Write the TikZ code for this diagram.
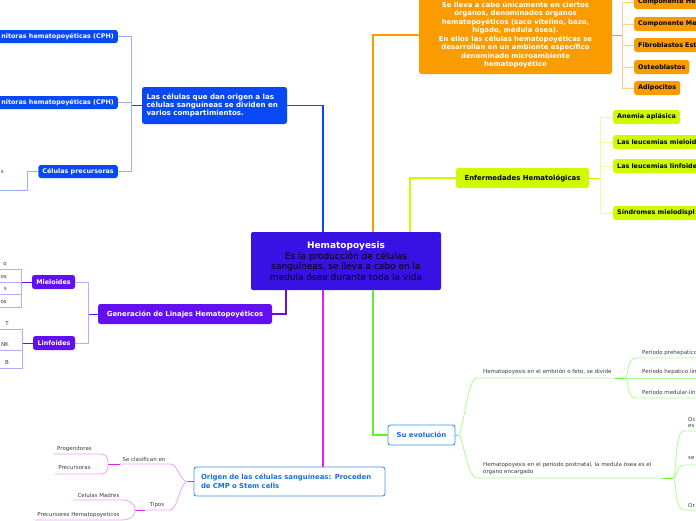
\documentclass[tikz,border=0pt]{standalone}
\usepackage{fontspec}
\setmainfont{DejaVu Sans}
\definecolor{hubcol}{RGB}{56,18,228}
\definecolor{cblue}{RGB}{8,72,245}
\definecolor{cbluel}{RGB}{150,178,250}
\definecolor{corange}{RGB}{250,155,0}
\definecolor{corangel}{RGB}{252,205,140}
\definecolor{clime}{RGB}{208,250,0}
\definecolor{climel}{RGB}{236,250,160}
\definecolor{cviolet}{RGB}{98,16,240}
\definecolor{cvioletl}{RGB}{195,165,250}
\definecolor{cmag}{RGB}{228,30,240}
\definecolor{cmagl}{RGB}{242,160,248}
\definecolor{cgreen}{RGB}{100,240,40}
\definecolor{cgreenl}{RGB}{175,250,145}
\definecolor{cframe}{RGB}{60,145,235}
\definecolor{ctext}{RGB}{25,110,220}
\definecolor{leafgray}{RGB}{60,60,60}
\tikzset{
  box/.style={rounded corners=2.5pt, inner sep=0pt, font=\bfseries\fontsize{6.4}{8.2}\selectfont},
  topic/.style={font=\bfseries\fontsize{6.9}{8.5}\selectfont},
  bluebox/.style={box, fill=cblue, text=white},
  orangebox/.style={box, fill=corange, text=black},
  limebox/.style={box, fill=clime, text=black},
  violetbox/.style={box, fill=cviolet, text=white},
  framebox/.style={box, fill=white, draw=cframe, line width=0.9pt, text=ctext},
  leaf/.style={inner sep=0pt, text=leafgray, font=\fontsize{5.5}{7}\selectfont},
  stem/.style={line width=1.1pt},
  twig/.style={line width=0.8pt},
}
\begin{document}
\begin{tikzpicture}[x=1pt,y=-1pt]
\useasboundingbox (0,0) rectangle (696,520);
% centre
\node[fill=hubcol, rounded corners=2pt, minimum width=190pt, minimum height=58pt, align=center, font=\fontsize{9}{10.7}\selectfont] (hema) at (346,261) {\textcolor{white}{\bfseries Hematopoyesis}\\Es la producción de células\\sanguíneas, se lleva a cabo en la\\medula ósea durante toda la vida};

% main topics
\node[bluebox, font=\bfseries\fontsize{7.1}{8.2}\selectfont, minimum width=145pt, minimum height=37pt, text width=136pt, align=left] (comp) at (214.5,105.5) {Las células que dan origen a las\\células sanguíneas se dividen en\\varios compartimientos.};
\node[orangebox, text=white, minimum width=193pt, minimum height=78pt, text width=184pt, align=center, font=\bfseries\fontsize{6.9}{8.5}\selectfont] (org) at (515.5,35) {Se lleva a cabo únicamente en ciertos\\órganos, denominados órganos\\hematopoyéticos (saco vitelino, bazo,\\hígado, médula ósea).\\En ellos las células hematopoyéticas se\\desarrollan en un ambiente específico\\denominado microambiente\\hematopoyético};
\node[limebox, topic, minimum width=133pt, minimum height=20pt] (enf) at (522.5,178) {Enfermedades Hematológicas};
\node[violetbox, topic, minimum width=174pt, minimum height=20pt] (gen) at (185,314) {Generación de Linajes Hematopoyéticos};
\node[framebox, topic, minimum width=191pt, minimum height=29pt, text width=177pt, align=left] (origen) at (289.5,481.5) {Origen de las células sanguíneas: Proceden\\de CMP o Stem cells};
\node[framebox, topic, minimum width=67pt, minimum height=20pt] (evol) at (421.5,435) {Su evolución};

\draw[cblue, stem] ([xshift=-23pt]hema.north) |- (comp.east);
\draw[corange, stem] ([xshift=27pt]hema.north) |- (org.west);
\draw[clime, stem] ([xshift=64pt]hema.north) |- (enf.west);
\draw[cviolet, stem] ([xshift=-60pt]hema.south) |- (gen.east);
\draw[cmag, stem] ([xshift=-23pt]hema.south) -- ([xshift=-23pt]hema.south |- origen.north);
\draw[cgreen, stem] ([xshift=27pt]hema.south) |- (evol.west);

% blue branch
\node[bluebox, anchor=east, minimum height=13pt, inner xsep=4pt] (cph1) at (118,36.5) {nitoras hematopoyéticas (CPH)};
\node[bluebox, anchor=east, minimum height=13pt, inner xsep=4pt] (cph2) at (118,102.5) {nitoras hematopoyéticas (CPH)};
\node[bluebox, anchor=east, minimum height=13pt, inner xsep=4pt] (prec) at (118,171.5) {Células precursoras};
\node[leaf, anchor=east] (precs) at (4,172) {s};
\coordinate (bj) at (131,105.5);
\coordinate (precend) at (0,190);
\draw[cblue, twig] (comp.west) -- (bj);
\draw[cbluel, twig] (bj) |- (cph1.east);
\draw[cbluel, twig] (bj) |- (cph2.east);
\draw[cbluel, twig] (bj) |- (prec.east);
\draw[cbluel, twig] (prec.west) -- ++(-11,0) |- (precend);

% orange branch
\node[orangebox, anchor=west, minimum height=14pt, text width=72pt, align=left, inner xsep=4pt] (oc1) at (634,2) {Componente He};
\node[orangebox, anchor=west, minimum height=14pt, text width=72pt, align=left, inner xsep=4pt] (oc2) at (634,24) {Componente Me};
\node[orangebox, anchor=west, minimum height=14pt, text width=72pt, align=left, inner xsep=4pt] (oc3) at (634,45) {Fibroblastos Est};
\node[orangebox, anchor=west, minimum height=14pt, inner xsep=4pt] (oc4) at (634,67) {Osteoblastos};
\node[orangebox, anchor=west, minimum height=14pt, inner xsep=4pt] (oc5) at (634,88) {Adipocitos};
\coordinate (oj) at (622,35);
\draw[corange, twig] (org.east) -- (oj);
\foreach \c in {oc1,oc2,oc3,oc4,oc5}
  \draw[corangel, twig] (oj) |- (\c.west);

% lime branch
\node[limebox, anchor=west, minimum height=14pt, inner xsep=4pt] (ls1) at (613,117) {Anemia aplásica};
\node[limebox, anchor=west, minimum height=14pt, text width=96pt, align=left, inner xsep=4pt] (ls2) at (613,142) {Las leucemias mieloid};
\node[limebox, anchor=west, minimum height=14pt, text width=96pt, align=left, inner xsep=4pt] (ls3) at (613,166) {Las leucemias linfoide};
\node[limebox, anchor=west, minimum height=14pt, text width=96pt, align=left, inner xsep=4pt] (ls4) at (613,213) {Síndromes mielodispl};
\coordinate (lj) at (600,178);
\draw[clime, twig] (enf.east) -- (lj);
\foreach \c in {ls1,ls2,ls3,ls4}
  \draw[climel, twig] (lj) |- (\c.west);

% violet branch
\node[violetbox, minimum width=43pt, minimum height=14pt] (miel) at (53.5,282) {Mieloides};
\node[violetbox, minimum width=42pt, minimum height=14pt] (linf) at (54,343) {Linfoides};
\coordinate (gj) at (88,314);
\draw[cviolet, twig] (gen.west) -- (gj);
\draw[cvioletl, twig] (gj) |- (miel.east);
\draw[cvioletl, twig] (gj) |- (linf.east);
\coordinate (mj) at (21,282);
\coordinate (nj) at (22,343);
\draw[cviolet, twig] (miel.west) -- (mj);
\draw[cviolet, twig] (linf.west) -- (nj);
\foreach \t/\y in {o/269,os/282,s/294,os/307}{
  \node[leaf, anchor=south east] at (7,\y-3) {\t};
  \draw[cvioletl, twig] (0,\y) -| (mj);
}
\foreach \t/\y in {T/329,NK/350,B/368}{
  \node[leaf, anchor=south east] at (9,\y-3) {\t};
  \draw[cvioletl, twig] (0,\y) -| (nj);
}

% magenta branch
\node[leaf] (clasif) at (144,459) {Se clasifican en};
\node[leaf] (tipos) at (157,505) {Tipos};
\node[leaf] (progen) at (74.5,449) {Progenitoras};
\node[leaf] (precur) at (74.5,468) {Precursoras};
\node[leaf] (madres) at (98.5,495) {Celulas Madres};
\node[leaf] (phema) at (78.5,515) {Precursores Hematopoyeticos};
\draw[cmag, twig] (origen.west) -- ++(-6,0) coordinate (mgj);
\draw[cmagl, twig] (mgj) .. controls (180,481.5) and (178,464) .. (170,464) -- (120,464);
\draw[cmagl, twig] (mgj) .. controls (180,481.5) and (178,510) .. (170,510) -- (145,510);
\draw[cmag, twig] (120,464) -- (108,464) coordinate (cj);
\draw[cmag, twig] (145,510) -- (135,510) coordinate (tj);
\draw[cmagl, twig] (cj) .. controls (108,456) and (106,454) .. (100,454) -- (53,454);
\draw[cmagl, twig] (cj) .. controls (108,472) and (106,474) .. (100,474) -- (55,474);
\draw[cmagl, twig] (tj) .. controls (135,502) and (128,500) .. (120,500) -- (73,500);
\draw[cmagl, twig] (tj) .. controls (135,518) and (128,520) .. (120,520) -- (35,520);

% green branch
\node[leaf, anchor=west] (embr) at (483,372) {Hematopoyesis en el embrión o feto, se divide};
\node[leaf, anchor=west, align=left] (postn) at (483,468.5) {Hematopoyesis en el periodo postnatal, la medula ósea es el\\órgano encargado};
\node[leaf, anchor=west] (pe1) at (642,353) {Periodo prehepatico};
\node[leaf, anchor=west] (pe2) at (642,372) {Periodo hepatico lin};
\node[leaf, anchor=west] (pe3) at (642,392) {Periodo medular-lin};
\node[leaf, anchor=west, align=left, font=\fontsize{5.5}{6}\selectfont] (po1) at (688,422) {Oc\\es};
\node[leaf, anchor=west] (po2) at (688,458) {se};
\node[leaf, anchor=west] (po3) at (688,505) {Or};
\draw[cgreen, twig] (evol.east) -- ++(3,0) coordinate (ej);
\draw[cgreenl, twig] (ej) .. controls (463,435) and (467,378) .. (477,378) -- (615,378);
\draw[cgreenl, twig] (ej) .. controls (463,435) and (467,478) .. (477,478) -- (663,478);
\draw[cgreen, twig] (615,378) -- (625,378) coordinate (pj);
\draw[cgreen, twig] (663,478) -- (673,478) coordinate (qj);
\draw[cgreenl, twig] (pj) -- (696,378);
\draw[cgreenl, twig] (pj) .. controls (629,378) and (626,358) .. (636,358) -- (696,358);
\draw[cgreenl, twig] (pj) .. controls (629,378) and (626,398) .. (636,398) -- (696,398);
\draw[cgreenl, twig] (qj) .. controls (677,478) and (674,431) .. (684,431) -- (696,431);
\draw[cgreenl, twig] (qj) .. controls (677,478) and (676,465) .. (684,465) -- (696,465);
\draw[cgreenl, twig] (qj) .. controls (677,478) and (674,510) .. (684,510) -- (696,510);
\end{tikzpicture}
\end{document}
